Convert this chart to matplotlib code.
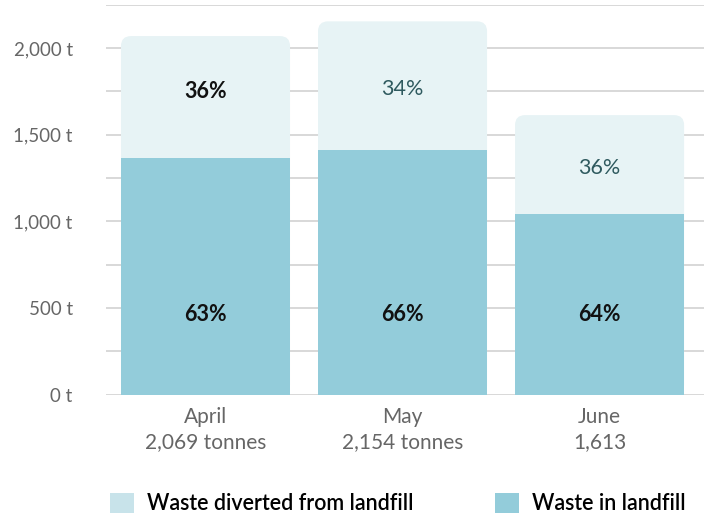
import matplotlib
matplotlib.use("Agg")
import matplotlib.pyplot as plt
from matplotlib.patches import FancyBboxPatch, Patch
from matplotlib.ticker import MultipleLocator, FuncFormatter

plt.rcParams['font.family'] = ['Lato', 'DejaVu Sans']

# data
months = ["April", "May", "June"]
total_labels = ["2,069 tonnes", "2,154 tonnes", "1,613"]
totals = [2069, 2154, 1613]
landfill = [1366, 1412, 1043]
landfill_pct = ["63%", "66%", "64%"]
diverted_pct = ["36%", "34%", "36%"]

c_landfill = "#93ccda"
c_diverted = "#e7f3f5"
c_diverted_legend = "#c8e3ea"
c_grid = "#d6d6d6"
c_tick = "#666666"

fig = plt.figure(figsize=(7.04, 5.19), dpi=100)
ax = fig.add_axes([106 / 704, 1 - 394.7 / 519, 1 - 106 / 704, (394.7 - 4.7) / 519])

x = list(range(len(months)))
width = 0.858

ax.set_xlim(-0.505, 2.53)
ax.set_ylim(0, 2250)

# diverted part drawn full height with rounded top, landfill drawn on top of it
bars = ax.bar(x, totals, width=width, color=c_diverted, zorder=2)
bbox = ax.get_position()
px_per_x = bbox.width * 704 / (ax.get_xlim()[1] - ax.get_xlim()[0])
px_per_y = bbox.height * 519 / (ax.get_ylim()[1] - ax.get_ylim()[0])
aspect = px_per_x / px_per_y
r = 10 / px_per_x
for rect in bars:
    p = FancyBboxPatch((rect.get_x(), rect.get_y()), rect.get_width(), rect.get_height(),
                       boxstyle="round,pad=0,rounding_size=%f" % r,
                       mutation_aspect=aspect, facecolor=c_diverted,
                       edgecolor="none", zorder=2)
    ax.add_patch(p)
    rect.remove()

ax.bar(x, landfill, width=width, color=c_landfill, zorder=3)

# percentage labels
for i in x:
    mid_top = (landfill[i] + totals[i]) / 2
    if i == 0:
        ax.text(i, mid_top + 30, diverted_pct[i], ha="center", va="center",
                fontsize=15.5, fontweight="bold", color="#111111", zorder=4)
    else:
        ax.text(i, mid_top - 20, diverted_pct[i], ha="center", va="center",
                fontsize=15.5, color="#2f5a5f", zorder=4)
    ax.text(i, 465, landfill_pct[i], ha="center", va="center",
            fontsize=15.5, fontweight="bold", color="#111111", zorder=4)

# axes styling
for s in ax.spines.values():
    s.set_visible(False)
ax.yaxis.set_major_locator(MultipleLocator(500))
ax.yaxis.set_minor_locator(MultipleLocator(250))
ax.yaxis.set_major_formatter(FuncFormatter(lambda v, p: "{:,.0f} t".format(v)))
ax.grid(which="both", axis="y", color=c_grid, linewidth=1.3)
ax.set_axisbelow(True)
ax.tick_params(axis="y", which="both", length=0, pad=24, labelsize=13.5, labelcolor=c_tick)
ax.set_xticks(x)
ax.set_xticklabels([m + "\n" + t for m, t in zip(months, total_labels)],
                   fontsize=15, color=c_tick, linespacing=1.3)
ax.tick_params(axis="x", length=0, pad=9)

# legend
h1 = Patch(facecolor=c_diverted_legend, edgecolor="none")
h2 = Patch(facecolor=c_landfill, edgecolor="none")
for h, lab, xpos in [(h1, "Waste diverted from landfill", 110 / 704),
                     (h2, "Waste in landfill", 495 / 704)]:
    fig.legend([h], [lab], loc="center left", bbox_to_anchor=(xpos, 1 - 503.5 / 519),
               frameon=False, borderpad=0, borderaxespad=0,
               handlelength=1.1, handleheight=1.1, handletextpad=0.6,
               prop={"weight": "semibold", "size": 15.5})

fig.savefig("out.png", dpi=100)
